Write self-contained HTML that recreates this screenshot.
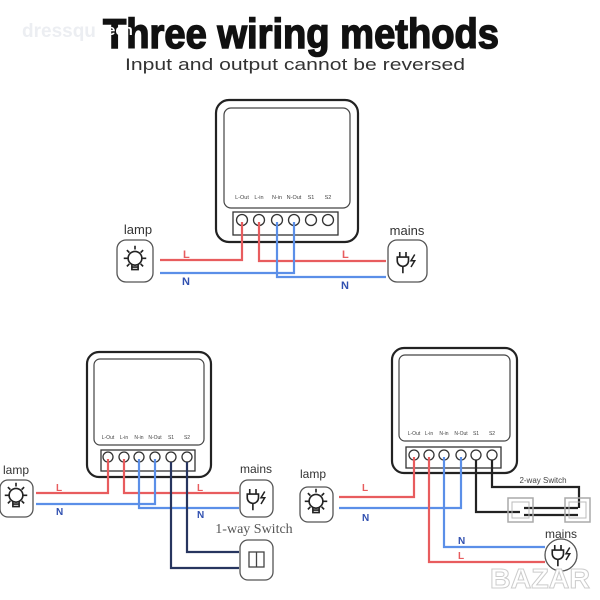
<!DOCTYPE html>
<html><head><meta charset="utf-8"><style>
html,body{margin:0;padding:0;background:#fff;}
svg{display:block;}
</style></head><body>
<svg width="600" height="600" viewBox="0 0 600 600" xmlns="http://www.w3.org/2000/svg" font-family="Liberation Sans, sans-serif">
<rect width="600" height="600" fill="#fff"/>
<text x="22" y="37" font-size="19" font-weight="bold" fill="#eceef2">dressqu</text>
<text x="301" y="48" font-size="42" font-weight="bold" text-anchor="middle" fill="#111" stroke="#111" stroke-width="1.5" font-family="Liberation Sans Narrow, Liberation Sans, sans-serif" textLength="396" lengthAdjust="spacingAndGlyphs">Three wiring methods</text>
<text x="107" y="35" font-size="15" font-weight="bold" fill="#fff">een</text>
<text x="295" y="70" font-size="17" text-anchor="middle" fill="#333" textLength="340" lengthAdjust="spacingAndGlyphs">Input and output cannot be reversed</text>

<defs>
<g id="lampic0" fill="none" stroke="#222" stroke-width="1.3">
<circle cx="0" cy="-3" r="5.5"/><path d="M-2.5,2 v4 h5 v-4 M-2.5,4 h5"/>
<path d="M0,-13 v3 M-9,-3 h3 M6,-3 h3 M-6.5,-9.5 l2,2 M6.5,-9.5 l-2,2 M-6.5,3.5 l2,-2 M6.5,3.5 l-2,-2"/>
</g>
<g id="lampic"><use href="#lampic0" transform="scale(1.25)"/></g>
<g id="plugic0" fill="none" stroke="#222" stroke-width="1.3">
<path d="M-7,-4 h9 v3 a4.5,4.5 0 0 1 -9,0 z M-5,-4 v-4 M0,-4 v-4 M-2.5,4 v5"/>
<path d="M7,-6 l-3,5 h3 l-3,5" stroke-width="1.2"/>
</g>
<g id="plugic"><use href="#plugic0" transform="scale(1.25)"/></g>
</defs>

<!-- Diagram 1 -->
<g>
<rect x="216" y="100" width="142" height="142" rx="13" fill="#fff" stroke="#222" stroke-width="2.2"/>
<rect x="224" y="108" width="126" height="100" rx="7" fill="none" stroke="#444" stroke-width="1.2"/>
<rect x="233" y="212" width="105" height="23" fill="none" stroke="#333" stroke-width="1.3"/>
<g font-size="5.5" fill="#444" text-anchor="middle">
<text x="242" y="199">L-Out</text><text x="259" y="199">L-in</text><text x="277" y="199">N-in</text><text x="294" y="199">N-Out</text><text x="311" y="199">S1</text><text x="328" y="199">S2</text></g>
<g fill="#fff" stroke="#333" stroke-width="1.3">
<circle cx="242" cy="220" r="5.5"/><circle cx="259" cy="220" r="5.5"/><circle cx="277" cy="220" r="5.5"/><circle cx="294" cy="220" r="5.5"/><circle cx="311" cy="220" r="5.5"/><circle cx="328" cy="220" r="5.5"/></g>
<g fill="none" stroke-width="2.2">
<path d="M160,260 H242 V222" stroke="#e85c5e"/>
<path d="M259,222 V261 H386" stroke="#e85c5e"/>
<path d="M160,273 H294 V222" stroke="#5b8fe8"/>
<path d="M277,222 V277 H386" stroke="#5b8fe8"/>
</g>
<rect x="117" y="240" width="36" height="42" rx="9" fill="#fff" stroke="#555" stroke-width="1.3"/>
<use href="#lampic" x="135" y="262"/>
<rect x="388" y="240" width="39" height="42" rx="9" fill="#fff" stroke="#555" stroke-width="1.3"/>
<use href="#plugic" x="406" y="262"/>
<text x="138" y="234" font-size="13" text-anchor="middle" fill="#333">lamp</text>
<text x="407" y="235" font-size="13" text-anchor="middle" fill="#333">mains</text>
<g font-size="11" font-weight="bold"><text x="183" y="258" fill="#e85c5e">L</text><text x="342" y="258" fill="#e85c5e">L</text><text x="182" y="285" fill="#3050b0">N</text><text x="341" y="289" fill="#3050b0">N</text></g>
</g>

<!-- Diagram 2 -->
<g>
<rect x="87" y="352" width="124" height="125" rx="12" fill="#fff" stroke="#222" stroke-width="2.2"/>
<rect x="94" y="359" width="110" height="86" rx="6" fill="none" stroke="#444" stroke-width="1.2"/>
<rect x="101" y="450" width="94" height="21" fill="none" stroke="#333" stroke-width="1.3"/>
<g font-size="5" fill="#444" text-anchor="middle">
<text x="108" y="439">L-Out</text><text x="124" y="439">L-in</text><text x="139" y="439">N-in</text><text x="155" y="439">N-Out</text><text x="171" y="439">S1</text><text x="187" y="439">S2</text></g>
<g fill="#fff" stroke="#333" stroke-width="1.3">
<circle cx="108" cy="457" r="5"/><circle cx="124" cy="457" r="5"/><circle cx="139" cy="457" r="5"/><circle cx="155" cy="457" r="5"/><circle cx="171" cy="457" r="5"/><circle cx="187" cy="457" r="5"/></g>
<g fill="none" stroke-width="2.2">
<path d="M36,493 H108 V459" stroke="#e85c5e"/>
<path d="M124,459 V493 H239" stroke="#e85c5e"/>
<path d="M36,504 H155 V459" stroke="#5b8fe8"/>
<path d="M139,459 V508 H239" stroke="#5b8fe8"/>
<path d="M171,462 V568 H239" stroke="#27355f"/>
<path d="M187,462 V552 H239" stroke="#27355f"/>
</g>
<rect x="0" y="480" width="33" height="37" rx="8" fill="#fff" stroke="#555" stroke-width="1.3"/>
<use href="#lampic" x="16" y="499"/>
<rect x="240" y="480" width="33" height="37" rx="8" fill="#fff" stroke="#555" stroke-width="1.3"/>
<use href="#plugic" x="256" y="499"/>
<rect x="240" y="540" width="33" height="40" rx="8" fill="#fff" stroke="#555" stroke-width="1.3"/>
<rect x="249" y="552" width="15" height="15" fill="none" stroke="#444" stroke-width="1.3"/><path d="M256.5,552 v15" stroke="#444" stroke-width="1.3"/>
<text x="16" y="474" font-size="12" text-anchor="middle" fill="#333">lamp</text>
<text x="256" y="473" font-size="12" text-anchor="middle" fill="#333">mains</text>
<text x="254" y="533" font-size="14" text-anchor="middle" fill="#555" font-family="Liberation Serif, serif">1-way Switch</text>
<g font-size="10" font-weight="bold"><text x="56" y="491" fill="#e85c5e">L</text><text x="197" y="491" fill="#e85c5e">L</text><text x="56" y="515" fill="#3050b0">N</text><text x="197" y="518" fill="#3050b0">N</text></g>
</g>

<!-- Diagram 3 -->
<g>
<rect x="392" y="348" width="125" height="125" rx="12" fill="#fff" stroke="#222" stroke-width="2.2"/>
<rect x="399" y="355" width="111" height="86" rx="6" fill="none" stroke="#444" stroke-width="1.2"/>
<rect x="406" y="447" width="95" height="21" fill="none" stroke="#333" stroke-width="1.3"/>
<g font-size="5" fill="#444" text-anchor="middle">
<text x="414" y="435">L-Out</text><text x="429" y="435">L-in</text><text x="444" y="435">N-in</text><text x="461" y="435">N-Out</text><text x="476" y="435">S1</text><text x="492" y="435">S2</text></g>
<g fill="#fff" stroke="#333" stroke-width="1.3">
<circle cx="414" cy="455" r="5"/><circle cx="429" cy="455" r="5"/><circle cx="444" cy="455" r="5"/><circle cx="461" cy="455" r="5"/><circle cx="476" cy="455" r="5"/><circle cx="492" cy="455" r="5"/></g>
<g fill="none" stroke-width="2.2">
<path d="M339,497 H414 V457" stroke="#e85c5e"/>
<path d="M339,508 H461 V457" stroke="#5b8fe8"/>
<path d="M444,457 V547 H545" stroke="#5b8fe8"/>
<path d="M429,457 V562 H545" stroke="#e85c5e"/>
<path d="M476,460 V512 H520" stroke="#222"/>
<path d="M492,460 V487 H579 V508" stroke="#222"/>
<path d="M524,508 H578 M524,515 H578" stroke="#222"/>
</g>
<rect x="300" y="487" width="33" height="35" rx="8" fill="#fff" stroke="#555" stroke-width="1.3"/>
<use href="#lampic" x="316" y="505"/>
<rect x="508" y="498" width="25" height="24" fill="none" stroke="#aaa" stroke-width="1.5"/><rect x="512" y="502" width="17" height="16" fill="none" stroke="#bbb" stroke-width="1"/>
<rect x="565" y="498" width="25" height="24" fill="none" stroke="#aaa" stroke-width="1.5"/><rect x="569" y="502" width="17" height="16" fill="none" stroke="#bbb" stroke-width="1"/>
<circle cx="561" cy="555" r="16" fill="#fff" stroke="#555" stroke-width="1.3"/>
<use href="#plugic" x="561" y="555"/>
<text x="313" y="478" font-size="12" text-anchor="middle" fill="#333">lamp</text>
<text x="561" y="538" font-size="12" text-anchor="middle" fill="#333">mains</text>
<text x="543" y="483" font-size="8" text-anchor="middle" fill="#444">2-way Switch</text>
<g font-size="10" font-weight="bold"><text x="458" y="544" fill="#3050b0">N</text><text x="458" y="559" fill="#e85c5e">L</text><text x="362" y="491" fill="#e85c5e">L</text><text x="362" y="521" fill="#3050b0">N</text></g>
<text x="490" y="588" font-size="28" font-weight="bold" fill="#fff" stroke="#ccc" stroke-width="1" textLength="100" lengthAdjust="spacingAndGlyphs">BAZAR</text>
</g>
</svg>
</body></html>
